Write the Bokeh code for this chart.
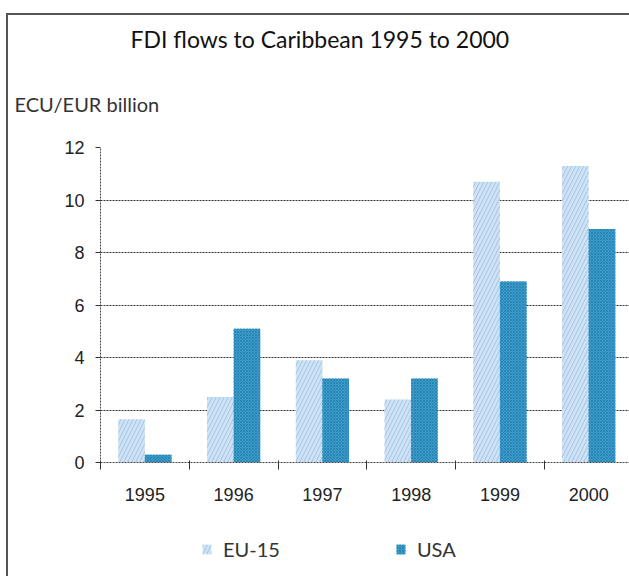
from bokeh.plotting import figure
from bokeh.layouts import column
from bokeh.models import Range1d, FixedTicker, Legend, LegendItem, Title
from bokeh.embed import file_html
from bokeh.resources import INLINE

years = ["1995", "1996", "1997", "1998", "1999", "2000"]
eu15 = [1.65, 2.5, 3.9, 2.4, 10.7, 11.3]
usa = [0.3, 5.1, 3.2, 3.2, 6.9, 8.9]
y_ticks = [0, 2, 4, 6, 8, 10, 12]
series_names = ["EU-15", "USA"]

idx = list(range(len(years)))
centers = [i + 0.5 for i in idx]
eu_x = [c - 0.15 for c in centers]
usa_x = [c + 0.15 for c in centers]

TICK_FONT = "'Liberation Sans Narrow', 'Liberation Sans', sans-serif"
TEXT_FONT = "Lato"
EU_STYLE = dict(fill_color="#c9e5f4", line_color=None, hatch_pattern="/",
                hatch_color="#aeb2e4", hatch_alpha=0.8, hatch_scale=8, hatch_weight=1)
US_STYLE = dict(fill_color="#3a9dcb", line_color=None, hatch_pattern="x",
                hatch_color="#2c86b5", hatch_scale=3, hatch_weight=1)

p = figure(width=621, height=492, output_backend="svg", toolbar_location=None,
           x_range=Range1d(0, 5.96), y_range=Range1d(0, 12),
           min_border_left=92, min_border_right=0, min_border_top=132,
           min_border_bottom=45, outline_line_color=None,
           background_fill_color="white", border_fill_color="white")

p.vbar(x=eu_x, top=eu15, width=0.3, **EU_STYLE)
p.vbar(x=usa_x, top=usa, width=0.3, **US_STYLE)

# axes
xa = p.xaxis[0]
xa.ticker = FixedTicker(ticks=centers, minor_ticks=idx + [len(idx)])
xa.major_label_overrides = {c: y for c, y in zip(centers, years)}
xa.major_tick_out = 0
xa.major_tick_in = 0
xa.minor_tick_out = 7
xa.minor_tick_in = 2
xa.minor_tick_line_color = "#333"
xa.axis_line_color = "#444"
xa.axis_line_dash = "2 1"
xa.major_label_standoff = 18
xa.major_label_text_font = TICK_FONT
xa.major_label_text_font_size = "18px"
xa.major_label_text_color = "#222"

ya = p.yaxis[0]
ya.ticker = FixedTicker(ticks=y_ticks)
ya.major_tick_out = 5
ya.major_tick_in = 0
ya.minor_tick_out = 0
ya.minor_tick_in = 0
ya.major_tick_line_color = "#333"
ya.axis_line_color = "#444"
ya.axis_line_dash = "2 1"
ya.major_label_standoff = 11
ya.major_label_text_font = TICK_FONT
ya.major_label_text_font_size = "18px"
ya.major_label_text_color = "#222"

p.xgrid.visible = False
p.ygrid.ticker = FixedTicker(ticks=y_ticks)
p.ygrid.grid_line_color = "#333333"
p.ygrid.grid_line_dash = "2 1"
p.ygrid.grid_line_width = 1.2

p.add_layout(Title(text="ECU/EUR billion", align="left", offset=-86,
                   text_font=TEXT_FONT, text_font_size="20px", text_font_style="normal",
                   text_color="#333", standoff=63), "above")
p.add_layout(Title(text="FDI flows to Caribbean 1995 to 2000", align="left", offset=30,
                   text_font=TEXT_FONT, text_font_size="23px", text_font_style="normal",
                   text_color="#111", standoff=12), "above")

# legend strip below the chart (its bars sit outside the strip's visible range)
leg = figure(width=621, height=69, output_backend="svg", toolbar_location=None,
             x_range=Range1d(100, 101), y_range=Range1d(100, 101),
             x_axis_location=None, y_axis_location=None,
             min_border_left=0, min_border_right=0, min_border_top=0,
             min_border_bottom=0, outline_line_color=None,
             background_fill_color="white", border_fill_color="white")
leg.xgrid.visible = False
leg.ygrid.visible = False
r_eu = leg.vbar(x=eu_x, top=eu15, width=0.3, **EU_STYLE)
r_us = leg.vbar(x=usa_x, top=usa, width=0.3, **US_STYLE)
legend = Legend(items=[LegendItem(label=series_names[0], renderers=[r_eu]),
                       LegendItem(label=series_names[1], renderers=[r_us])],
                orientation="horizontal", location=(101, 15),
                label_text_font=TEXT_FONT, label_text_font_size="20px",
                label_text_color="#333", glyph_width=11, glyph_height=12,
                label_standoff=11, spacing=115, padding=0, margin=0,
                border_line_color=None, background_fill_alpha=0)
leg.add_layout(legend, "center")

layout = column(p, leg, spacing=0)
layout.styles = {"margin-top": "13px", "margin-left": "6px",
                 "border-top": "2px solid #555", "border-left": "2px solid #555"}

open("out.html", "w").write(file_html(layout, INLINE))
